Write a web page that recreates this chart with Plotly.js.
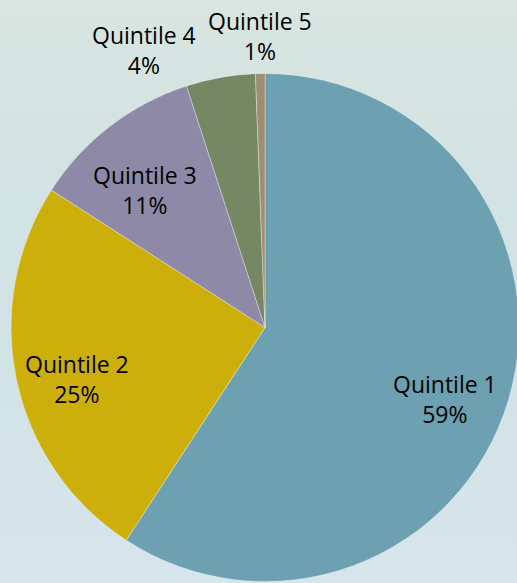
<!DOCTYPE html>
<html>
<head>
<meta charset="utf-8">
<script src="https://cdn.plot.ly/plotly-3.0.1.min.js"></script>
<style>
html, body { margin: 0; padding: 0; width: 517px; height: 583px; overflow: hidden; }
body { background: linear-gradient(to bottom, #D8E5E0 0%, #D0E2E4 45%, #D6E5EC 100%); }
#chart { width: 530px; height: 583px; }
</style>
</head>
<body>
<div id="chart"></div>
<script>
// Data
const categories = ["Quintile 1", "Quintile 2", "Quintile 3", "Quintile 4", "Quintile 5"];
const values = [59.2, 24.9, 10.9, 4.4, 0.6];
const sliceColors = ["#6DA0B0", "#CDAF0B", "#8D89A6", "#758763", "#A08E70"];
// Label placement (pixel centres) for each category
const labelPx = [[445, 399], [77, 379], [145, 190], [144, 50], [260, 36]];

const W = 530, H = 583;
const margin = { l: 11, r: 11, t: 73, b: 1 };
const pw = W - margin.l - margin.r, ph = H - margin.t - margin.b;
const total = values.reduce((a, b) => a + b, 0);

const annotations = categories.map((c, i) => ({
  xref: 'paper', yref: 'paper',
  x: (labelPx[i][0] - margin.l) / pw,
  y: 1 - (labelPx[i][1] - margin.t) / ph,
  xanchor: 'center', yanchor: 'middle',
  text: c + '<br>' + Math.round(values[i] / total * 100) + '%',
  showarrow: false,
  font: { family: 'Open Sans, sans-serif', size: 23, color: '#000000' }
}));

const trace = {
  type: 'pie',
  labels: categories,
  values: values,
  sort: false,
  direction: 'clockwise',
  rotation: 0,
  textinfo: 'none',
  hoverinfo: 'label+percent',
  marker: { colors: sliceColors, line: { color: 'rgba(255,255,255,0.35)', width: 1 } },
  domain: { x: [0, 1], y: [0, 1] },
  showlegend: false
};

Plotly.newPlot('chart', [trace], {
  width: W, height: H,
  margin: margin,
  paper_bgcolor: 'rgba(0,0,0,0)',
  plot_bgcolor: 'rgba(0,0,0,0)',
  showlegend: false,
  annotations: annotations
}, { displayModeBar: false, staticPlot: true });
</script>
</body>
</html>
